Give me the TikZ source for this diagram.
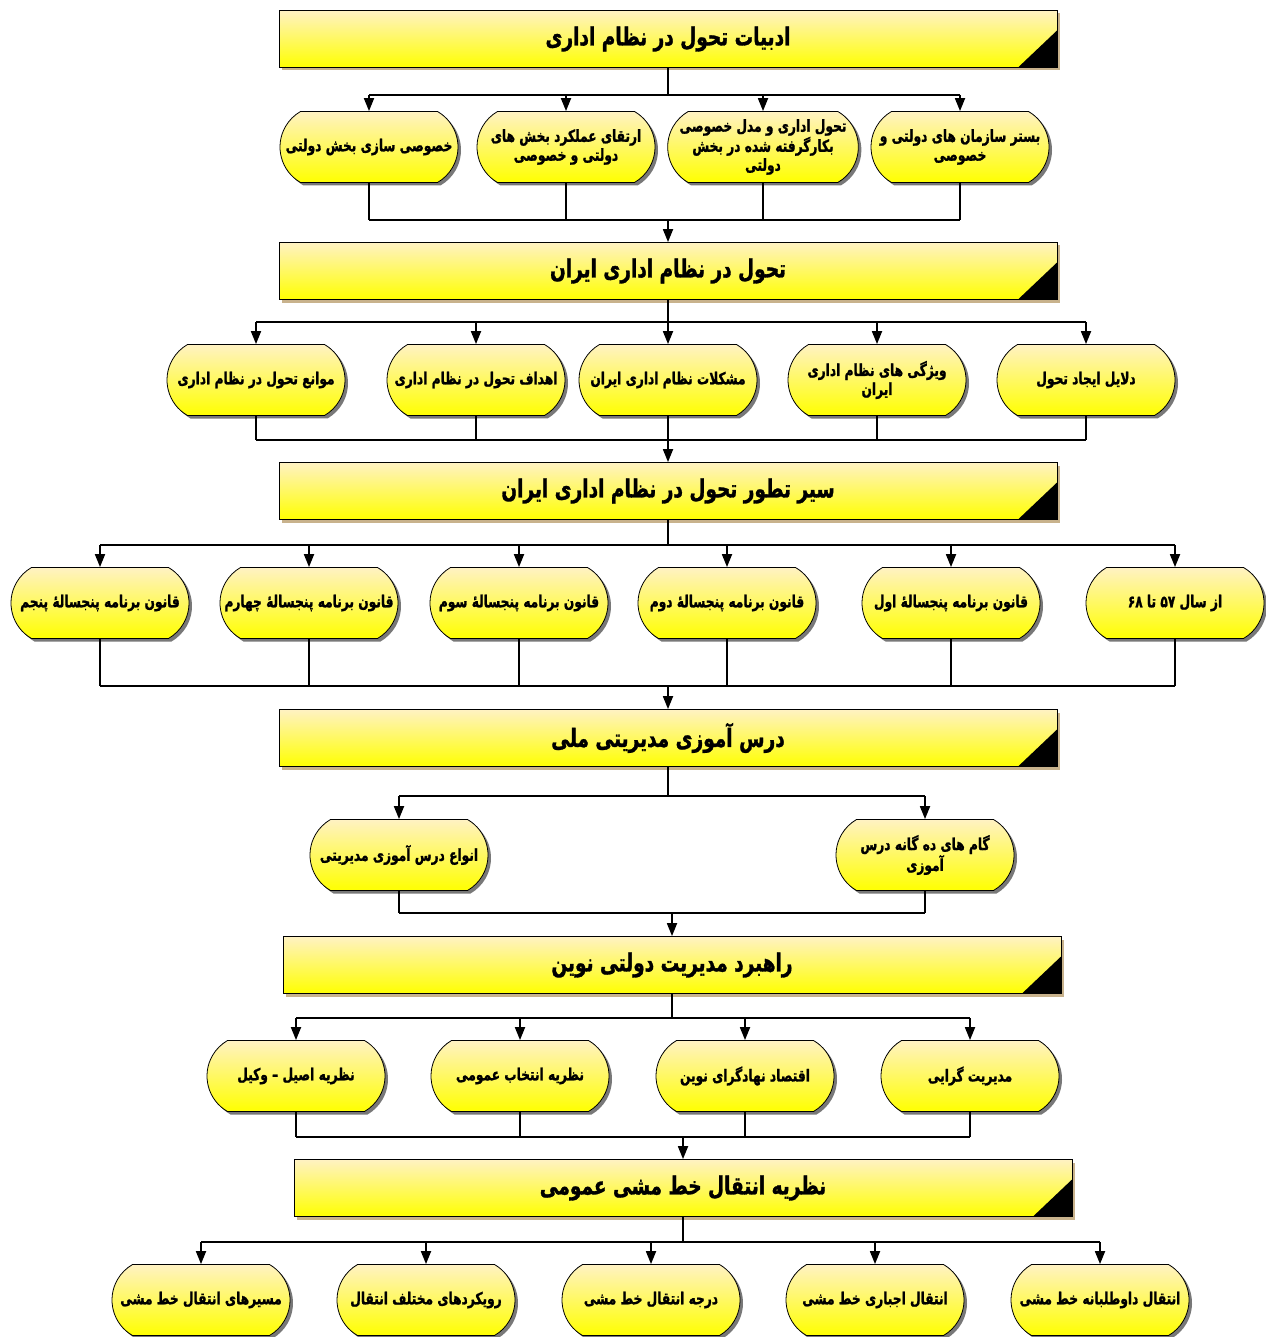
\documentclass[tikz,border=0pt]{standalone}
\usepackage{fontspec}
\usetikzlibrary{shapes.misc,shadows,arrows.meta,calc}
\TeXXeTstate=1
\newfontfamily\fab[Script=Arabic,FakeStretch=0.74,FakeBold=1.2]{DejaVu Sans Bold}
\newcommand\fa[1]{\beginR #1\endR}
\definecolor{paletop}{RGB}{255,242,195}
\definecolor{ylw}{RGB}{255,255,0}
\definecolor{tanshadow}{RGB}{200,178,140}
\definecolor{grayshadow}{RGB}{120,120,120}
\tikzset{
  hdr/.style={draw=black, line width=0.8pt, top color=paletop, bottom color=ylw,
    minimum width=778pt, minimum height=57pt, inner sep=0pt,
    font=\fab\fontsize{25}{30}\selectfont,
    drop shadow={shadow xshift=3pt, shadow yshift=-3pt, fill=tanshadow, opacity=1},
    path picture={\fill[black] (path picture bounding box.south east) -- ++(-39pt,0pt) -- ++(39pt,37pt) -- cycle;}},
  item/.style={rounded rectangle, rounded rectangle arc length=120, draw=black, line width=0.8pt,
    top color=paletop, bottom color=ylw, minimum width=180pt, minimum height=71pt,
    inner sep=1pt, align=center, font=\fab\fontsize{16.5}{19}\selectfont,
    drop shadow={shadow xshift=3pt, shadow yshift=-3pt, fill=grayshadow, opacity=1}},
  conn/.style={line width=1.8pt, black},
  arr/.style={conn, -{Triangle[length=13pt,width=10pt]}},
}
\begin{document}
\begin{tikzpicture}[x=1pt,y=-1pt]
\useasboundingbox (0,0) rectangle (1265,1337);
% ---------- level 1
\node[hdr] (h1) at (668,39) {\fa{ادبیات تحول در نظام اداری}};
\node[item] (a1) at (960,147) {\fa{بستر سازمان های دولتی و}\\\fa{خصوصی}};
\node[item] (a2) at (763,147) {\fa{تحول اداری و مدل خصوصی}\\\fa{بکارگرفته شده در بخش}\\\fa{دولتی}};
\node[item] (a3) at (566,147) {\fa{ارتقای عملکرد بخش های}\\\fa{دولتی و خصوصی}};
\node[item] (a4) at (369,147) {\fa{خصوصی سازی بخش دولتی}};
\coordinate (t1) at (668,95);
\coordinate (u1) at (668,220);
\draw[conn] (h1.south) -- (t1);
\draw[conn] (t1 -| a4.north) -- (t1 -| a1.north);
\foreach \n in {a1,a2,a3,a4}{\draw[arr] (t1 -| \n.north) -- (\n.north);}
\foreach \n in {a1,a2,a3,a4}{\draw[conn] (\n.south) -- (u1 -| \n.south);}
\draw[conn] (u1 -| a4.south) -- (u1 -| a1.south);
% ---------- level 2
\node[hdr] (h2) at (668,271) {\fa{تحول در نظام اداری ایران}};
\draw[arr] (u1) -- (h2.north);
\node[item] (b1) at (1086,380) {\fa{دلایل ایجاد تحول}};
\node[item] (b2) at (877,380) {\fa{ویژگی های نظام اداری}\\\fa{ایران}};
\node[item] (b3) at (668,380) {\fa{مشکلات نظام اداری ایران}};
\node[item] (b4) at (476,380) {\fa{اهداف تحول در نظام اداری}};
\node[item] (b5) at (256,380) {\fa{موانع تحول در نظام اداری}};
\coordinate (t2) at (668,322);
\coordinate (u2) at (668,440);
\draw[conn] (h2.south) -- (t2);
\draw[conn] (t2 -| b5.north) -- (t2 -| b1.north);
\foreach \n in {b1,b2,b3,b4,b5}{\draw[arr] (t2 -| \n.north) -- (\n.north);}
\foreach \n in {b1,b2,b3,b4,b5}{\draw[conn] (\n.south) -- (u2 -| \n.south);}
\draw[conn] (u2 -| b5.south) -- (u2 -| b1.south);
% ---------- level 3
\node[hdr] (h3) at (668,491) {\fa{سیر تطور تحول در نظام اداری ایران}};
\draw[arr] (u2) -- (h3.north);
\node[item] (c1) at (1175,603) {\fa{از سال ۵۷ تا ۶۸}};
\node[item] (c2) at (951,603) {\fa{قانون برنامه پنجسالهٔ اول}};
\node[item] (c3) at (727,603) {\fa{قانون برنامه پنجسالهٔ دوم}};
\node[item] (c4) at (519,603) {\fa{قانون برنامه پنجسالهٔ سوم}};
\node[item] (c5) at (309,603) {\fa{قانون برنامه پنجسالهٔ چهارم}};
\node[item] (c6) at (100,603) {\fa{قانون برنامه پنجسالهٔ پنجم}};
\coordinate (t3) at (668,545);
\coordinate (u3) at (668,686);
\draw[conn] (h3.south) -- (t3);
\draw[conn] (t3 -| c6.north) -- (t3 -| c1.north);
\foreach \n in {c1,c2,c3,c4,c5,c6}{\draw[arr] (t3 -| \n.north) -- (\n.north);}
\foreach \n in {c1,c2,c3,c4,c5,c6}{\draw[conn] (\n.south) -- (u3 -| \n.south);}
\draw[conn] (u3 -| c6.south) -- (u3 -| c1.south);
% ---------- level 4
\node[hdr] (h4) at (668,738) {\fa{درس آموزی مدیریتی ملی}};
\draw[arr] (u3) -- (h4.north);
\node[item] (d1) at (925,855) {\fa{گام های ده گانه درس}\\\fa{آموزی}};
\node[item] (d2) at (399,855) {\fa{انواع درس آموزی مدیریتی}};
\coordinate (t4) at (668,796);
\coordinate (u4) at (672,913);
\draw[conn] (h4.south) -- (t4);
\draw[conn] (t4 -| d2.north) -- (t4 -| d1.north);
\foreach \n in {d1,d2}{\draw[arr] (t4 -| \n.north) -- (\n.north);}
\foreach \n in {d1,d2}{\draw[conn] (\n.south) -- (u4 -| \n.south);}
\draw[conn] (u4 -| d2.south) -- (u4 -| d1.south);
% ---------- level 5
\node[hdr] (h5) at (672,965) {\fa{راهبرد مدیریت دولتی نوین}};
\draw[arr] (u4) -- (h5.north);
\node[item] (e1) at (970,1076) {\fa{مدیریت گرایی}};
\node[item] (e2) at (745,1076) {\fa{اقتصاد نهادگرای نوین}};
\node[item] (e3) at (520,1076) {\fa{نظریه انتخاب عمومی}};
\node[item] (e4) at (296,1076) {\fa{نظریه اصیل – وکیل}};
\coordinate (t5) at (672,1018);
\coordinate (u5) at (683,1137);
\draw[conn] (h5.south) -- (t5);
\draw[conn] (t5 -| e4.north) -- (t5 -| e1.north);
\foreach \n in {e1,e2,e3,e4}{\draw[arr] (t5 -| \n.north) -- (\n.north);}
\foreach \n in {e1,e2,e3,e4}{\draw[conn] (\n.south) -- (u5 -| \n.south);}
\draw[conn] (u5 -| e4.south) -- (u5 -| e1.south);
% ---------- level 6
\node[hdr] (h6) at (683,1188) {\fa{نظریه انتقال خط مشی عمومی}};
\draw[arr] (u5) -- (h6.north);
\node[item] (f1) at (1100,1300) {\fa{انتقال داوطلبانه خط مشی}};
\node[item] (f2) at (875,1300) {\fa{انتقال اجباری خط مشی}};
\node[item] (f3) at (651,1300) {\fa{درجه انتقال خط مشی}};
\node[item] (f4) at (426,1300) {\fa{رویکردهای مختلف انتقال}};
\node[item] (f5) at (201,1300) {\fa{مسیرهای انتقال خط مشی}};
\coordinate (t6) at (683,1242);
\draw[conn] (h6.south) -- (t6);
\draw[conn] (t6 -| f5.north) -- (t6 -| f1.north);
\foreach \n in {f1,f2,f3,f4,f5}{\draw[arr] (t6 -| \n.north) -- (\n.north);}
\end{tikzpicture}
\end{document}
